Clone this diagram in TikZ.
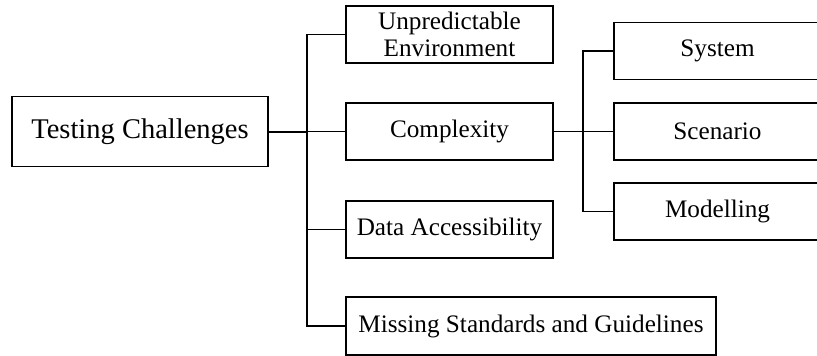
\documentclass[tikz,border=0pt]{standalone}
\usepackage{fontspec}
\setmainfont{Liberation Serif}
\begin{document}
\begin{tikzpicture}[x=1pt,y=1pt,
  box/.style={draw, line width=1.2pt, inner sep=2pt, minimum height=57pt, align=center,
    font=\fontsize{25.2}{27.5}\selectfont},
  wbox/.style={box, minimum width=207pt},
  conn/.style={line width=1.1pt}]
\clip (0,0) rectangle (817,-356);
\node[box, minimum width=256pt, minimum height=70pt, font=\fontsize{28.5}{31}\selectfont] (T) at (140,-131.5) {Testing Challenges};
\node[wbox] (U) at (449.5,-34.5) {Unpredictable\\Environment};
\node[wbox] (C) at (449.5,-131.5) {Complexity};
\node[wbox] (D) at (449.5,-229.5) {Data Accessibility};
\node[box, minimum width=370pt, minimum height=58pt] (M) at (531,-326) {Missing Standards and Guidelines};
\node[wbox] (S1) at (717.5,-51) {System};
\node[wbox] (S2) at (717.5,-131.5) {Scenario};
\node[wbox] (S3) at (717.5,-211.5) {Modelling};
\coordinate (j1) at (307,0);
\coordinate (j2) at (583,0);
\draw[line width=2pt] (T.east) -- (T.east -| j1);
\draw[conn] (T.east -| j1) -- (C.west);
\draw[conn] (U.west) -- (U.west -| j1) |- (M.west);
\draw[conn] (D.west -| j1) -- (D.west);
\draw[conn] (C.east) -- (S2.west);
\draw[conn] (S1.west) -- (S1.west -| j2) |- (S3.west);
\end{tikzpicture}
\end{document}
